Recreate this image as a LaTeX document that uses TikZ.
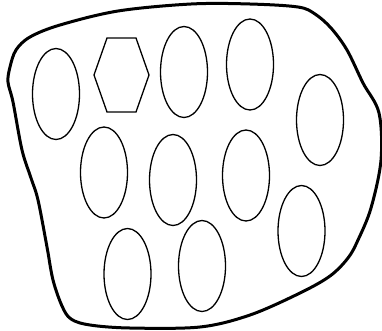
\documentclass[tikz,border=0pt]{standalone}
\usetikzlibrary{shapes.geometric}
\begin{document}
\begin{tikzpicture}[x=1pt,y=-1pt,
  cell/.style={draw,ellipse,line width=1.3pt,minimum width=47pt,minimum height=91pt,inner sep=0pt},
  hexcell/.style={draw,line width=1.3pt,line join=miter},
  blob/.style={draw,line width=3pt}]
\useasboundingbox (0,0) rectangle (382,330);
\draw[blob] plot[smooth cycle,tension=0.55] coordinates {
 (10,67) (16,50) (30,37) (60,25) (118,11) (191,4) (250,4) (298,7) (315,14)
 (331,28) (347,50) (363,83) (379,113) (381,160) (371,208) (358,240) (348,258)
 (330,276) (300,293) (250,315) (200,327) (130,328) (90,325) (71,319) (62,306)
 (53,280) (47,247) (38,200) (31,178) (22,150) (13,102) (8,82)};
\node[cell] (e1) at (56,94) {};
\draw[hexcell] (107,38) coordinate (h1) -- (136,38) -- (149,75) -- (136,112) -- (107,112) -- (94,75) -- cycle;
\node[cell] (e3) at (184,72) {};
\node[cell] (e4) at (250,64.5) {};
\node[cell] (e5) at (320,120) {};
\node[cell] (e6) at (104,172.5) {};
\node[cell] (e7) at (173,180) {};
\node[cell] (e8) at (246,175.5) {};
\node[cell] (e9) at (301.5,231) {};
\node[cell] (e10) at (127.5,274) {};
\node[cell] (e11) at (202,266) {};
\end{tikzpicture}
\end{document}
